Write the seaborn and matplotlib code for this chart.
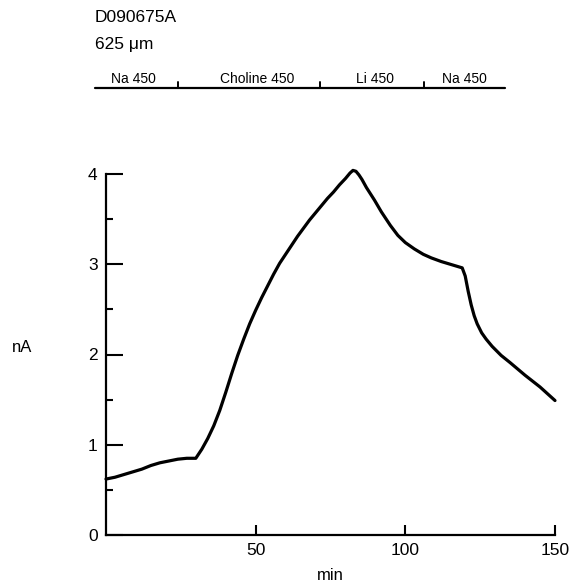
import matplotlib
matplotlib.use("Agg")
import matplotlib.pyplot as plt
import seaborn as sns
import pandas as pd

# ---- data ----
time_min = [0, 3, 6, 9, 12, 15, 18, 21, 24, 27, 30,
            32, 34, 36, 38, 40, 42, 44, 46, 48, 50, 52, 54, 56, 58, 60, 62, 64, 66, 68, 70,
            72, 74, 76, 78, 80, 81.5, 82.5, 83.5, 84.5,
            85.5, 87, 89.7, 92, 95, 97.5, 100, 103, 106, 108.7, 112, 115, 119,
            120, 121, 122, 123, 124, 125.5, 127, 129, 132, 135, 140, 145, 150]
current_nA = [0.62, 0.64, 0.67, 0.70, 0.73, 0.77, 0.80, 0.82, 0.84, 0.85, 0.85,
              0.95, 1.07, 1.21, 1.38, 1.58, 1.79, 1.99, 2.17, 2.34, 2.49, 2.63, 2.76, 2.89,
              3.01, 3.11, 3.21, 3.31, 3.40, 3.49, 3.57,
              3.65, 3.73, 3.80, 3.88, 3.95, 4.01, 4.04, 4.03, 3.99,
              3.94, 3.85, 3.71, 3.58, 3.43, 3.32, 3.24, 3.17, 3.11, 3.07, 3.03, 3.00, 2.96,
              2.87, 2.70, 2.55, 2.43, 2.34, 2.24, 2.17, 2.09, 1.99, 1.91, 1.77, 1.64, 1.49]
x_ticks = [50, 100, 150]
y_ticks = [0, 1, 2, 3, 4]
y_minor = [0.5, 1.5, 2.5, 3.5]
title_lines = ["D090675A", "625 \u03bcm"]
solutions = ["Na 450", "Choline 450", "Li 450", "Na 450"]

df = pd.DataFrame({"min": time_min, "nA": current_nA})

sns.set_style("white")
plt.rcParams["font.family"] = ["Liberation Sans", "DejaVu Sans"]
plt.rcParams["text.color"] = "black"
plt.rcParams["xtick.color"] = "black"
plt.rcParams["ytick.color"] = "black"

fig = plt.figure(figsize=(5.7, 5.85), dpi=100)
W, H = 570, 585
ax = fig.add_axes([106 / W, 1 - 535 / H, (555 - 106) / W, (535 - 174) / H])

sns.lineplot(data=df, x="min", y="nA", ax=ax, color="black", linewidth=2.3)
for ln in ax.get_lines():
    ln.set_clip_on(False)
    ln.set_solid_joinstyle("round")

ax.set_xlim(0, 150)
ax.set_ylim(0, 4)
ax.set_xticks(x_ticks)
ax.set_yticks(y_ticks)
ax.set_yticks(y_minor, minor=True)
ax.tick_params(axis="both", which="major", direction="in", colors="black", labelsize=12.5,
               width=1.5, left=True, bottom=True)
ax.tick_params(axis="y", which="major", length=12, pad=6)
ax.tick_params(axis="x", which="major", length=7, pad=6)
ax.tick_params(axis="y", which="minor", direction="in", length=5, width=1.5, left=True)
for s in ["top", "right"]:
    ax.spines[s].set_visible(False)
for s in ["left", "bottom"]:
    ax.spines[s].set_color("black")
    ax.spines[s].set_linewidth(1.6)
ax.set_xlabel("")
ax.set_ylabel("")

fig.text(330 / W, 1 - 575 / H, "min", ha="center", va="center", fontsize=12)
fig.text(22 / W, 1 - 347 / H, "nA", ha="center", va="center", fontsize=12)

# header text
fig.text(95 / W, 1 - 18 / H, title_lines[0], ha="left", va="center", fontsize=12.5)
fig.text(95 / W, 1 - 45 / H, title_lines[1], ha="left", va="center", fontsize=12.5)

# solution band (figure pixel frame)
bx = fig.add_axes([0, 0, 1, 1], facecolor="none")
bx.set_xlim(0, W)
bx.set_ylim(H, 0)
bx.axis("off")
line_y = 88
bx.plot([95, 505], [line_y, line_y], color="black", lw=1.6)
seg_edges = [95, 178, 320, 424, 505]
for xb in seg_edges[1:-1]:
    bx.plot([xb, xb], [line_y, line_y - 6], color="black", lw=1.4)
label_x = [133, 257, 375, 464]
for lx, lab in zip(label_x, solutions):
    bx.text(lx, line_y - 9, lab, ha="center", va="center", fontsize=10)

fig.savefig("out.png", dpi=100)
